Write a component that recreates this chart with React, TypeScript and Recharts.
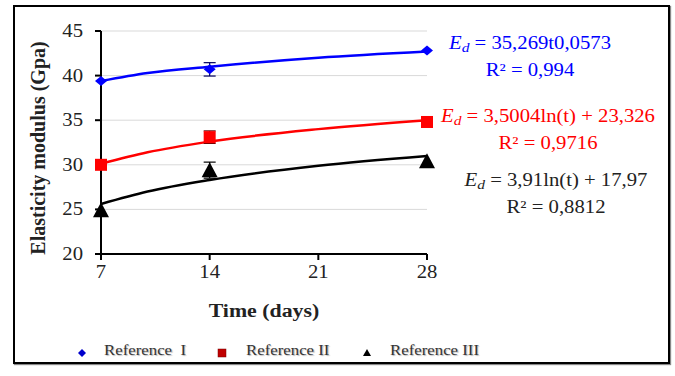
import React from 'react';
import { ComposedChart, Line, Scatter, ErrorBar, XAxis, YAxis, CartesianGrid } from 'recharts';

// measured points (days, GPa, error)
const days = [7, 14, 28];
const refI = [39.4, 40.7, 42.8];
const refII = [30.0, 33.1, 34.8];
const refIII = [24.9, 29.4, 30.4];
const errI = [0, 0.75, 0];
const errII = [0, 0.7, 0];
const errIII = [0, 0.9, 0];

// trend curves
const trendDays = [7, 10, 14, 21, 28];
const trendI = [39.4, 40.3, 41.0, 42.0, 42.7];
const trendII = [30.1, 31.4, 32.6, 34.0, 35.0];
const trendIII = [25.6, 27.0, 28.3, 29.9, 31.0];

const xTicks = [7, 14, 21, 28];
const yTicks = [20, 25, 30, 35, 40, 45];

const FONT = 'Liberation Serif, DejaVu Serif, serif';

const points = (vals: number[], errs: number[]) =>
  days.map((t, i) => ({ t, v: vals[i], err: errs[i] }));
const trend = (vals: number[]) => trendDays.map((t, i) => ({ t, v: vals[i] }));

const Diamond = ({ cx, cy, fill }: any) => (
  <path d={`M${cx - 6},${cy} L${cx},${cy - 5} L${cx + 6},${cy} L${cx},${cy + 5} Z`} fill={fill} />
);
const Square = ({ cx, cy, fill }: any) => (
  <rect x={cx - 6} y={cy - 6} width={12} height={12} fill={fill} />
);
const Triangle = ({ cx, cy, fill }: any) => (
  <path d={`M${cx},${cy - 8} L${cx + 8},${cy + 7} L${cx - 8},${cy + 7} Z`} fill={fill} />
);

const YTick = ({ x, y, payload }: any) => (
  <text transform={`translate(${x - 10},${y}) scale(1.15,1)`} dy={6} textAnchor="end"
    fontFamily={FONT} fontSize={18} fill="#222">
    {payload.value}
  </text>
);
const XTick = ({ x, y, payload }: any) => (
  <text transform={`translate(${x},${y}) scale(1.15,1)`} dy={16} textAnchor="middle"
    fontFamily={FONT} fontSize={18} fill="#222">
    {payload.value}
  </text>
);

const Ed = () => (
  <span><i>E</i><sub style={{ fontStyle: 'italic', fontSize: '0.75em', verticalAlign: '-0.2em' }}>d</sub></span>
);

const eqStyle = (left: number, top: number, color: string): React.CSSProperties => ({
  position: 'absolute', left, top, width: 240, textAlign: 'center', color,
  fontFamily: FONT, fontSize: 18, lineHeight: '23px', transform: 'scaleX(1.15)',
  whiteSpace: 'nowrap',
});

const legendText: React.CSSProperties = {
  position: 'absolute', top: 342, fontFamily: FONT, fontSize: 15, color: '#333',
  transform: 'scaleX(1.12)', transformOrigin: 'left center', whiteSpace: 'nowrap',
  textShadow: '1px 1px 1px #bbb',
};

export default function App() {
  return (
    <div style={{ position: 'absolute', left: 0, top: 0, width: 675, height: 376, background: '#fff' }}>
      <div style={{ position: 'absolute', left: 13, top: 5, width: 657, height: 359, border: '2px solid #000', boxSizing: 'border-box', boxShadow: '1px 1px 1px #888' }} />
      <ComposedChart width={675} height={376} margin={{ top: 31, right: 248, left: 0, bottom: 72 }}
        style={{ position: 'absolute', left: 0, top: 0 }}>
        <CartesianGrid vertical={false} stroke="#d9d9d9" />
        <XAxis dataKey="t" type="number" domain={[7, 28]} ticks={xTicks} height={50}
          axisLine={{ stroke: '#000', strokeWidth: 2 }} tickLine={{ stroke: '#000', strokeWidth: 2 }} tickSize={6}
          tick={XTick}
          label={({ viewBox }: any) => (
            <text transform={`translate(${viewBox.x + viewBox.width / 2},${311}) scale(1.15,1)`} dy={6}
              textAnchor="middle" fontFamily={FONT} fontSize={19} fontWeight="bold" fill="#222">Time (days)</text>
          )} />
        <YAxis dataKey="v" type="number" domain={[20, 45]} ticks={yTicks} width={101}
          axisLine={{ stroke: '#000', strokeWidth: 2 }} tickLine={{ stroke: '#000', strokeWidth: 2 }} tickSize={6}
          tick={YTick}
          label={() => (
            <text transform={`translate(38,148) rotate(-90)`} dy={7} textAnchor="middle"
              fontFamily={FONT} fontSize={20} fontWeight="bold" fill="#222">Elasticity modulus (Gpa)</text>
          )} />
        <Line data={trend(trendI)} dataKey="v" type="monotone" stroke="#0000ff" strokeWidth={2.5} dot={false} isAnimationActive={false} />
        <Line data={trend(trendII)} dataKey="v" type="monotone" stroke="#ff0000" strokeWidth={2.5} dot={false} isAnimationActive={false} />
        <Line data={trend(trendIII)} dataKey="v" type="monotone" stroke="#000" strokeWidth={2.5} dot={false} isAnimationActive={false} />
        <Scatter data={points(refI, errI)} dataKey="v" fill="#0000ff" shape={Diamond} isAnimationActive={false}>
          <ErrorBar dataKey="err" direction="y" width={6} stroke="#000060" strokeWidth={1.2} />
        </Scatter>
        <Scatter data={points(refII, errII)} dataKey="v" fill="#ff0000" shape={Square} isAnimationActive={false}>
          <ErrorBar dataKey="err" direction="y" width={6} stroke="#600" strokeWidth={1.2} />
        </Scatter>
        <Scatter data={points(refIII, errIII)} dataKey="v" fill="#000" shape={Triangle} isAnimationActive={false}>
          <ErrorBar dataKey="err" direction="y" width={6} stroke="#000" strokeWidth={1.2} />
        </Scatter>
      </ComposedChart>

      <div style={eqStyle(410, 32, '#0000ff')}>
        <div><Ed /> = 35,269t0,0573</div>
        <div>R² = 0,994</div>
      </div>
      <div style={eqStyle(428, 105, '#ff0000')}>
        <div><Ed /> = 3,5004ln(t) + 23,326</div>
        <div>R² = 0,9716</div>
      </div>
      <div style={eqStyle(436, 169, '#222')}>
        <div><Ed /> = 3,91ln(t) + 17,97</div>
        <div>R² = 0,8812</div>
      </div>

      <svg width={675} height={376} style={{ position: 'absolute', left: 0, top: 0, pointerEvents: 'none' }}>
        <path d="M78,353 L82,349 L86,353 L82,357 Z" fill="#0000cc" />
        <rect x={218} y={349} width={8} height={8} fill="#c00000" stroke="#700" strokeWidth={0.5} />
        <path d="M367,349 L371,356 L363,356 Z" fill="#000" />
      </svg>
      <div style={{ ...legendText, left: 104 }}>Reference&nbsp;&nbsp;I</div>
      <div style={{ ...legendText, left: 246 }}>Reference II</div>
      <div style={{ ...legendText, left: 390 }}>Reference III</div>
    </div>
  );
}
